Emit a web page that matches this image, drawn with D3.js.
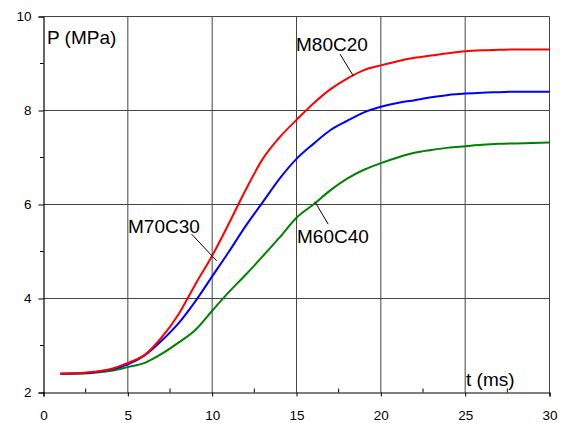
<!DOCTYPE html>
<meta charset="utf-8">
<script type="text/javascript" src="https://d3js.org/d3.v7.min.js"></script>
<style>
body { margin: 0; background: #fff; }
text { font-family: Arial, "Liberation Sans", sans-serif; fill: #000; }
.grid line { stroke: #444; stroke-width: 1px; }
</style>
<html><head><title></title></head><body>
<script>

// time (ms)
var times = [1, 2, 3, 4, 5, 6, 7, 8, 9, 10, 11, 12, 13, 14, 15,
             16, 17, 18, 19, 20, 21, 22, 23, 24, 25, 26, 27, 28, 29, 30];

// pressure (MPa) for each mixture
var m80c20 = [2.40, 2.41, 2.44, 2.50, 2.63, 2.80, 3.17, 3.66, 4.30, 4.91, 5.60, 6.32, 6.97, 7.43, 7.80,
              8.15, 8.45, 8.68, 8.86, 8.96, 9.05, 9.12, 9.17, 9.22, 9.26, 9.28, 9.29, 9.30, 9.30, 9.30];
var m70c30 = [2.40, 2.41, 2.43, 2.49, 2.60, 2.79, 3.10, 3.47, 3.94, 4.47, 5.00, 5.55, 6.05, 6.55, 6.97,
              7.29, 7.58, 7.78, 7.96, 8.08, 8.16, 8.22, 8.28, 8.33, 8.36, 8.38, 8.39, 8.40, 8.40, 8.40];
var m60c40 = [2.40, 2.40, 2.42, 2.46, 2.54, 2.63, 2.82, 3.06, 3.33, 3.74, 4.14, 4.51, 4.90, 5.30, 5.72,
              6.00, 6.30, 6.55, 6.74, 6.88, 7.00, 7.10, 7.16, 7.21, 7.24, 7.27, 7.29, 7.30, 7.31, 7.32];

var xTicks = [0, 5, 10, 15, 20, 25, 30];
var yTicks = [2, 4, 6, 8, 10];

var width = 563,
    height = 423;

var x = d3.scaleLinear().domain([0, 30]).range([43.5, 549.5]);
var y = d3.scaleLinear().domain([2, 10]).range([392.5, 16.5]);

var svg = d3.select("body").append("svg")
    .attr("width", width)
    .attr("height", height);

// grid
var grid = svg.append("g").attr("class", "grid");
grid.selectAll(".vg")
    .data(xTicks.slice(1))
    .enter().append("line")
    .attr("x1", function(d) { return x(d); })
    .attr("x2", function(d) { return x(d); })
    .attr("y1", y(2))
    .attr("y2", y(10));
grid.selectAll(".hg")
    .data(yTicks.slice(1))
    .enter().append("line")
    .attr("x1", x(0))
    .attr("x2", x(30))
    .attr("y1", function(d) { return y(d); })
    .attr("y2", function(d) { return y(d); });

// axes
var xAxis = d3.axisBottom(x).tickValues(xTicks).tickSize(4).tickPadding(14);
var yAxis = d3.axisLeft(y).tickValues(yTicks).tickSize(5).tickPadding(7);

var gx = svg.append("g")
    .attr("transform", "translate(0," + y(2) + ")")
    .call(xAxis);
var gy = svg.append("g")
    .attr("transform", "translate(" + x(0) + ",0)")
    .call(yAxis);

[gx, gy].forEach(function(g) {
  g.select(".domain").attr("stroke", "#000").attr("stroke-width", 1.2);
  g.selectAll(".tick line").attr("stroke", "#000");
  g.selectAll(".tick text")
    .attr("font-size", "13.5px")
    .attr("font-family", "Arial, 'Liberation Sans', sans-serif");
});

// minor ticks
svg.append("g").selectAll("line")
    .data([2.5, 7.5, 12.5, 17.5, 22.5, 27.5])
    .enter().append("line")
    .attr("x1", function(d) { return x(d); })
    .attr("x2", function(d) { return x(d); })
    .attr("y1", y(2))
    .attr("y2", y(2) - 4)
    .attr("stroke", "#000");
svg.append("g").selectAll("line")
    .data([3, 5, 7, 9])
    .enter().append("line")
    .attr("x1", x(0) - 3.5)
    .attr("x2", x(0))
    .attr("y1", function(d) { return y(d); })
    .attr("y2", function(d) { return y(d); })
    .attr("stroke", "#000");

// curves
var series = [
  {name: "M80C20", values: m80c20, color: "#ff0000"},
  {name: "M70C30", values: m70c30, color: "#0000ff"},
  {name: "M60C40", values: m60c40, color: "#008000"}
];

var line = d3.line()
    .x(function(d) { return x(d[0]); })
    .y(function(d) { return y(d[1]); })
    .curve(d3.curveMonotoneX);

svg.append("g").selectAll("path")
    .data(series.slice().reverse())
    .enter().append("path")
    .attr("fill", "none")
    .attr("stroke", function(d) { return d.color; })
    .attr("stroke-width", 2)
    .attr("d", function(d) {
      return line(times.map(function(t, i) { return [t, d.values[i]]; }));
    });

// axis titles
svg.append("text").attr("x", 47).attr("y", 44).attr("font-size", "19px").text("P (MPa)");
svg.append("text").attr("x", 466).attr("y", 386).attr("font-size", "19px").text("t (ms)");

// curve labels, with leader lines given in data units [t, P]
var labels = [
  {text: "M80C20", tx: 296, ty: 51, from: [17.58, 9.20], to: [18.36, 8.74]},
  {text: "M70C30", tx: 128, ty: 233, from: [8.78, 5.37], to: [10.27, 4.80]},
  {text: "M60C40", tx: 297, ty: 243, from: [16.88, 5.58], to: [16.09, 6.06]}
];

svg.append("g").selectAll("text")
    .data(labels)
    .enter().append("text")
    .attr("x", function(d) { return d.tx; })
    .attr("y", function(d) { return d.ty; })
    .attr("font-size", "19px")
    .text(function(d) { return d.text; });

svg.append("g").selectAll("line")
    .data(labels)
    .enter().append("line")
    .attr("x1", function(d) { return x(d.from[0]); })
    .attr("y1", function(d) { return y(d.from[1]); })
    .attr("x2", function(d) { return x(d.to[0]); })
    .attr("y2", function(d) { return y(d.to[1]); })
    .attr("stroke", "#000")
    .attr("stroke-width", 1);

</script>
</body>
</html>
